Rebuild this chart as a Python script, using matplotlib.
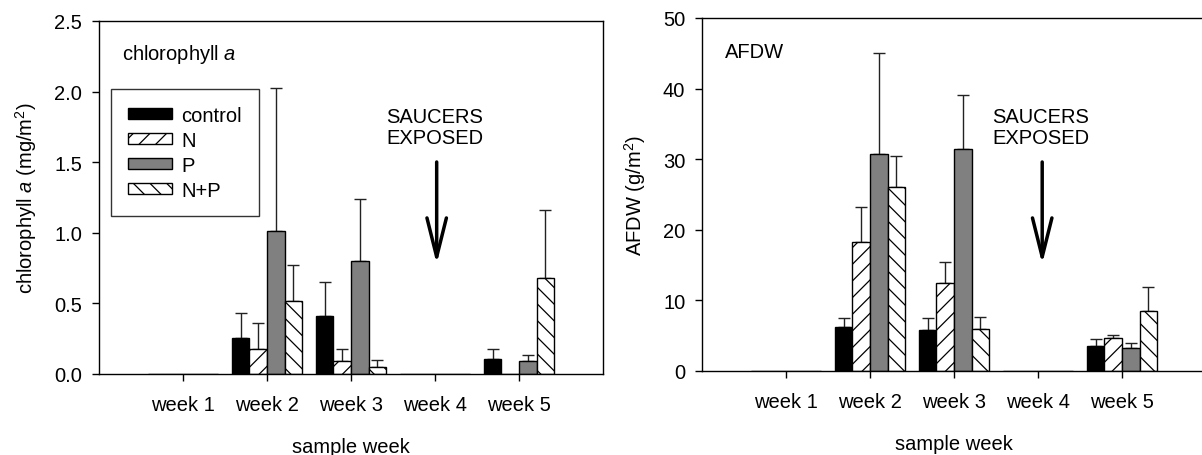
import matplotlib
matplotlib.use("Agg")
import matplotlib.pyplot as plt
import numpy as np

plt.rcParams['font.family'] = ['Liberation Sans', 'DejaVu Sans']
plt.rcParams['mathtext.fontset'] = 'custom'
plt.rcParams['mathtext.rm'] = 'Liberation Sans'
plt.rcParams['mathtext.it'] = 'Liberation Sans:italic'
plt.rcParams['hatch.linewidth'] = 0.9

# ---- data ----
weeks = ["week 1", "week 2", "week 3", "week 4", "week 5"]
treatments = ["control", "N", "P", "N+P"]

# chlorophyll a (mg/m2): means and upper error tops (nan = no bar)
chl_control = [np.nan, 0.255, 0.41, np.nan, 0.108]
chl_N       = [np.nan, 0.18, 0.09, np.nan, np.nan]
chl_P       = [np.nan, 1.01, 0.80, np.nan, 0.09]
chl_NP      = [np.nan, 0.52, 0.05, np.nan, 0.68]
chl_control_top = [np.nan, 0.43, 0.65, np.nan, 0.175]
chl_N_top       = [np.nan, 0.363, 0.18, np.nan, np.nan]
chl_P_top       = [np.nan, 2.024, 1.238, np.nan, 0.137]
chl_NP_top      = [np.nan, 0.774, 0.099, np.nan, 1.163]

# AFDW (g/m2)
afdw_control = [np.nan, 6.3, 5.8, np.nan, 3.55]
afdw_N       = [np.nan, 18.24, 12.43, np.nan, 4.63]
afdw_P       = [np.nan, 30.67, 31.38, np.nan, 3.31]
afdw_NP      = [np.nan, 26.09, 6.0, np.nan, 8.55]
afdw_control_top = [np.nan, 7.56, 7.56, np.nan, 4.58]
afdw_N_top       = [np.nan, 23.16, 15.45, np.nan, 5.10]
afdw_P_top       = [np.nan, 45.04, 39.13, np.nan, 4.02]
afdw_NP_top      = [np.nan, 30.43, 7.66, np.nan, 11.9]

# ---- styles ----
FS = 14.5
styles = [dict(color='black', hatch=None),
          dict(color='white', hatch='//'),
          dict(color='#808080', hatch=None),
          dict(color='white', hatch='\\\\')]
bar_w = 0.21

fig = plt.figure(figsize=(12.02, 4.56), dpi=100)
ax1 = fig.add_axes([99/1202, (456-375)/456, 504/1202, 353/456])
ax2 = fig.add_axes([702/1202, (456-372)/456, 504/1202, 353/456])

x = np.arange(1, len(weeks) + 1)

def draw(ax, means, tops, ylim, yticks, fmt, ylabel, title, title_y, arrow_y, arrow_x, text_x, text_y, xlabelpad):
    for i, (m, t, st) in enumerate(zip(means, tops, styles)):
        m = np.array(m, dtype=float)
        t = np.array(t, dtype=float)
        xpos = x + (i - 1.5) * bar_w
        ax.bar(xpos, np.nan_to_num(m), width=bar_w, color=st['color'],
               edgecolor='black', linewidth=1.0, hatch=st['hatch'],
               label=treatments[i], zorder=2)
        err = np.vstack([np.zeros_like(m), t - m])
        ok = ~np.isnan(m) & ~np.isnan(t)
        ax.errorbar(xpos[ok], m[ok], yerr=err[:, ok], fmt='none', ecolor='#222222',
                    elinewidth=1.0, capsize=4, capthick=1.0, zorder=1)
    ax.set_xlim(0, 6)
    ax.set_ylim(*ylim)
    ax.set_yticks(yticks)
    ax.set_yticklabels([fmt.format(v) for v in yticks])
    ax.set_xticks(x)
    ax.set_xticklabels(weeks)
    ax.tick_params(axis='both', direction='out', length=5, width=1, labelsize=FS)
    ax.tick_params(axis='y', pad=7)
    ax.tick_params(axis='x', pad=10)
    ax.set_xlabel("sample week", fontsize=FS, labelpad=xlabelpad)
    ax.set_ylabel(ylabel, fontsize=FS, labelpad=11)
    for s in ax.spines.values():
        s.set_linewidth(1.0)
        s.set_color('black')
    ax.text(0.046, title_y, title, transform=ax.transAxes, fontsize=FS, va='center', ha='left')
    ax.text(text_x, text_y, "SAUCERS\nEXPOSED", transform=ax.transAxes, fontsize=FS,
            va='center', ha='left', linespacing=1.15)
    ax.annotate("", xy=(arrow_x, arrow_y[1]), xytext=(arrow_x, arrow_y[0]),
                xycoords=('data', 'axes fraction'), textcoords=('data', 'axes fraction'),
                arrowprops=dict(arrowstyle='->,head_length=2.0,head_width=0.5',
                                lw=2.5, color='black', mutation_scale=14,
                                shrinkA=0, shrinkB=0))

draw(ax1, [chl_control, chl_N, chl_P, chl_NP],
     [chl_control_top, chl_N_top, chl_P_top, chl_NP_top],
     (0, 2.5), [0, 0.5, 1.0, 1.5, 2.0, 2.5], "{:.1f}",
     r"chlorophyll $a$ (mg/m$^2$)", r"chlorophyll $a$", (375-54)/353,
     ((375-163)/353, (375-265)/353), 4.02, (386-99)/504, (375-128)/353, 16.5)
draw(ax2, [afdw_control, afdw_N, afdw_P, afdw_NP],
     [afdw_control_top, afdw_N_top, afdw_P_top, afdw_NP_top],
     (0, 50), [0, 10, 20, 30, 40, 50], "{:.0f}",
     r"AFDW (g/m$^2$)", "AFDW", (372-53)/353,
     ((372-163)/353, (372-265)/353), 4.05, (992-702)/504, (372-128)/353, 17)

px = FS * 100 / 72.0  # font size in pixels
leg = ax1.legend(loc='upper left', bbox_to_anchor=((111-99)/504, (375-90)/353),
                 fontsize=FS, frameon=True, fancybox=False, edgecolor='black',
                 handlelength=44/px, handleheight=10/px, handletextpad=10/px,
                 labelspacing=0.3, borderpad=0.82, borderaxespad=0)
leg.get_frame().set_linewidth(1.0)

fig.savefig("out.png", dpi=100)
